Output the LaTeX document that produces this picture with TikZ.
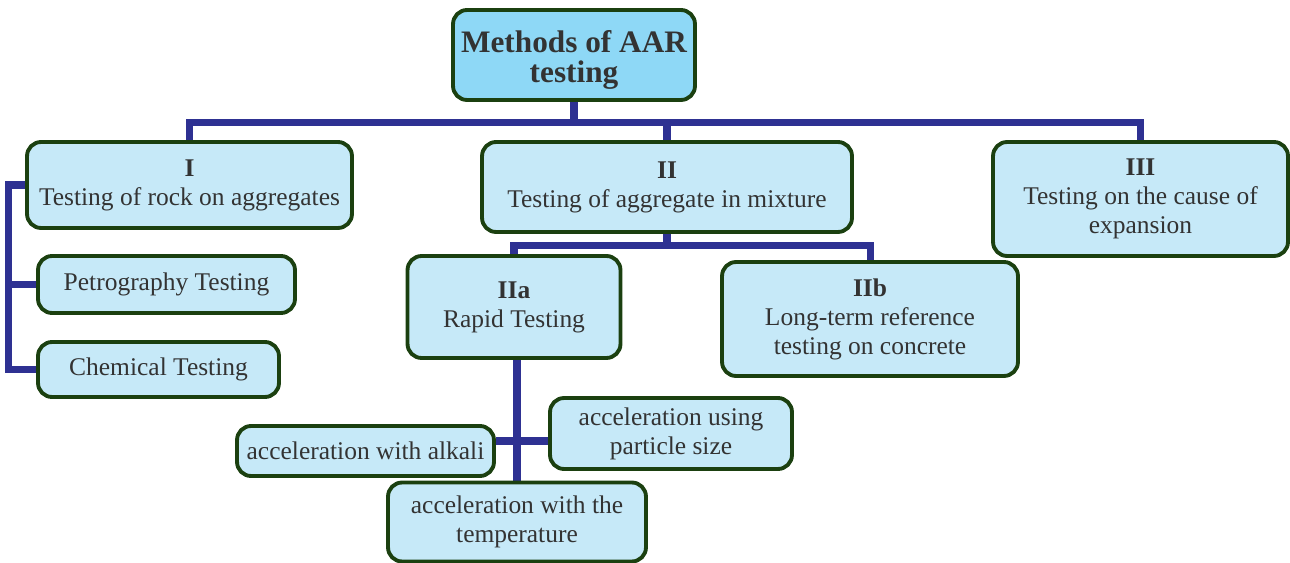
\documentclass[tikz,border=0pt]{standalone}
\usepackage{fontspec}
\setmainfont{Liberation Serif}
\usepackage{xcolor}
\usetikzlibrary{backgrounds}

\definecolor{boxfill}{HTML}{C6E9F8}
\definecolor{rootfill}{HTML}{8ED8F6}
\definecolor{boxline}{HTML}{1B4010}
\definecolor{linkblue}{HTML}{2E3192}
\definecolor{txtgray}{HTML}{333333}

\begin{document}
\begin{tikzpicture}[x=0.02cm, y=-0.02cm,
  box/.style={draw=boxline, fill=boxfill, line width=2.2pt, rounded corners=8pt,
    align=center, text=txtgray, inner sep=2pt, font=\fontsize{14.5}{16.5}\selectfont},
  rootbox/.style={box, fill=rootfill, font=\bfseries\fontsize{17.8}{17}\selectfont},
  link/.style={draw=linkblue, line width=4pt}]
\useasboundingbox (0,0) rectangle (1290,563);

% Root
\node[rootbox, minimum width=4.84cm, minimum height=1.8cm] (root) at (574,55) {\rule{0pt}{18pt}Methods of AAR\\testing};

% Main groups
\node[box, minimum width=6.5cm, minimum height=1.72cm] (I) at (189.5,185) {\textbf{I}\\Testing of rock on aggregates};
\node[box, minimum width=7.4cm, minimum height=1.8cm] (II) at (667,187) {\textbf{II}\\Testing of aggregate in mixture};
\node[box, minimum width=5.9cm, minimum height=2.28cm] (III) at (1140.5,199) {\textbf{III}\\Testing on the cause of\\expansion};

% Group I
\node[box, minimum width=5.14cm, minimum height=1.14cm] (petro) at (166.5,284.5) {Petrography Testing};
\node[box, minimum width=4.82cm, minimum height=1.1cm] (chem) at (158.5,369.5) {Chemical Testing};

% Group II
\node[box, minimum width=4.26cm, minimum height=2.04cm] (IIa) at (514,307) {\textbf{IIa}\\Rapid Testing};
\node[box, minimum width=5.92cm, minimum height=2.28cm] (IIb) at (870,319) {\textbf{IIb}\\Long-term reference\\testing on concrete};

% Rapid testing
\node[box, minimum width=5.14cm, minimum height=1.0cm] (alkali) at (365.5,451) {acceleration with alkali};
\node[box, minimum width=4.84cm, minimum height=1.42cm] (particle) at (671,433.5) {acceleration using\\particle size};
\node[box, minimum width=5.16cm, minimum height=1.58cm] (temp) at (517,522) {acceleration with the\\temperature};

% Connections
\begin{scope}[on background layer]
\draw[link] (root.south) -- ++(0,21) coordinate (bus);
\draw[link] (I.north) |- (bus) -| (III.north);
\draw[link] (bus -| II.north) -- (II.north);
\draw[link] (I.west) -- ++(-17,0) coordinate (lbar) |- (chem.west);
\draw[link] (lbar |- petro.west) -- (petro.west);
\draw[link] (II.south) -- ++(0,12) coordinate (split);
\draw[link] (IIa.north) |- (split) -| (IIb.north);
\draw[link] (temp.north) -- (temp.north |- IIa.south);
\draw[link] (alkali.east |- 0,441) -- (particle.west |- 0,441);
\end{scope}
\end{tikzpicture}
\end{document}
